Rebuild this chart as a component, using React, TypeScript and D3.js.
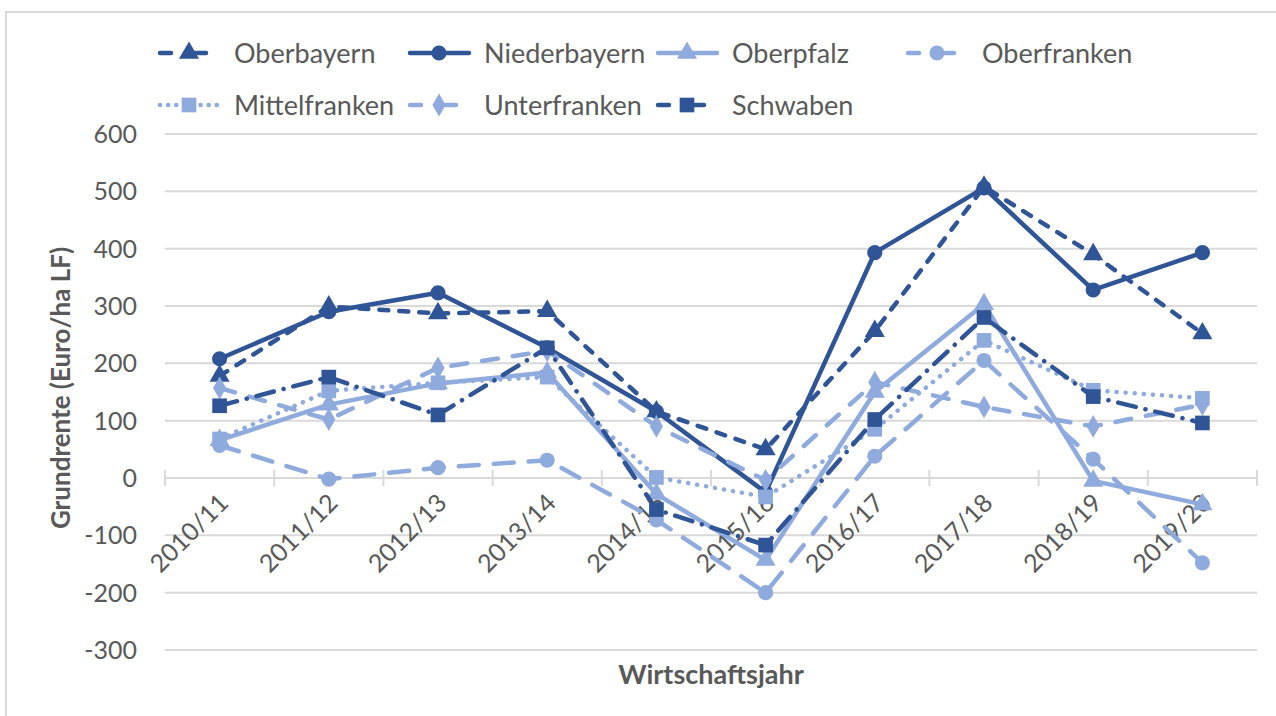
import React, { useEffect, useRef } from "react";
import * as d3 from "d3";

const years = [
  "2010/11", "2011/12", "2012/13", "2013/14", "2014/15",
  "2015/16", "2016/17", "2017/18", "2018/19", "2019/20",
];

const oberbayern = [178, 299, 287, 291, 116, 50, 256, 508, 390, 252];
const niederbayern = [208, 290, 323, 227, 116, -25, 393, 506, 328, 393];
const oberpfalz = [66, 128, 165, 184, -28, -143, 150, 303, -5, -46];
const oberfranken = [57, -2, 18, 31, -73, -200, 38, 205, 33, -148];
const mittelfranken = [68, 152, 166, 176, 1, -33, 85, 240, 153, 139];
const unterfranken = [157, 102, 192, 222, 90, -4, 167, 124, 90, 128];
const schwaben = [126, 176, 110, 227, -55, -117, 102, 280, 142, 96];

const yTicks = [-300, -200, -100, 0, 100, 200, 300, 400, 500, 600];

const DARK = "#2F5597";
const LIGHT = "#8FAADC";
const TEXT = "#595959";
const GRID = "#D9D9D9";
const FONT = "Lato, 'Open Sans', sans-serif";

const series = [
  { name: "Oberbayern", values: oberbayern, color: DARK, dash: "9 11", marker: "triangle" },
  { name: "Niederbayern", values: niederbayern, color: DARK, dash: null, marker: "circle" },
  { name: "Oberpfalz", values: oberpfalz, color: LIGHT, dash: null, marker: "triangle" },
  { name: "Oberfranken", values: oberfranken, color: LIGHT, dash: "20 15", marker: "circle" },
  { name: "Mittelfranken", values: mittelfranken, color: LIGHT, dash: "0.1 9", marker: "square" },
  { name: "Unterfranken", values: unterfranken, color: LIGHT, dash: "16 15", marker: "diamond" },
  { name: "Schwaben", values: schwaben, color: DARK, dash: "18 10 0.1 10", marker: "square" },
];

const symbolFor = (m) =>
  m === "triangle" ? d3.symbolTriangle
  : m === "circle" ? d3.symbolCircle
  : m === "diamond" ? d3.symbolDiamond
  : d3.symbolSquare;

const sizeFor = (m) =>
  m === "triangle" ? 175 : m === "circle" ? 180 : m === "diamond" ? 150 : 215;

function LineChart() {
  const svgRef = useRef(null);

  useEffect(() => {
    const svg = d3.select(svgRef.current);
    svg.selectAll("*").remove();

    const left = 165, right = 1257, top = 134, bottom = 650;

    // chart border
    svg.append("rect")
      .attr("x", 6).attr("y", 12)
      .attr("width", 1320).attr("height", 800)
      .attr("fill", "white")
      .attr("stroke", GRID).attr("stroke-width", 2);

    const x = d3.scaleBand().domain(years).range([left, right]).padding(0);
    const cx = (d) => x(d) + x.bandwidth() / 2;
    const y = d3.scaleLinear().domain([-300, 600]).range([bottom, top]);

    // gridlines + y labels
    svg.append("g").selectAll("line")
      .data(yTicks).enter().append("line")
      .attr("x1", left).attr("x2", right)
      .attr("y1", (d) => y(d)).attr("y2", (d) => y(d))
      .attr("stroke", GRID).attr("stroke-width", 2);

    svg.append("g").selectAll("text")
      .data(yTicks).enter().append("text")
      .attr("x", 137).attr("y", (d) => y(d))
      .attr("dy", "0.36em")
      .attr("text-anchor", "end")
      .attr("fill", TEXT)
      .style("font", `25px ${FONT}`)
      .text((d) => d);

    // category ticks on the zero axis
    const bounds = years.map((d) => x(d)).concat([right]);
    svg.append("g").selectAll("line")
      .data(bounds).enter().append("line")
      .attr("x1", (d) => d).attr("x2", (d) => d)
      .attr("y1", y(0) - 8).attr("y2", y(0) + 8)
      .attr("stroke", GRID).attr("stroke-width", 2);

    // x labels
    svg.append("g").selectAll("text")
      .data(years).enter().append("text")
      .attr("transform", (d) => `translate(${cx(d) + 4},${y(0) + 20}) rotate(-45)`)
      .attr("dy", "0.36em")
      .attr("text-anchor", "end")
      .attr("fill", TEXT)
      .style("font", `25px ${FONT}`)
      .text((d) => d);

    // axis titles
    svg.append("text")
      .attr("transform", `translate(61,${(top + bottom) / 2 - 4}) rotate(-90)`)
      .attr("dy", "0.36em")
      .attr("text-anchor", "middle")
      .attr("fill", TEXT)
      .style("font", `bold 26px ${FONT}`)
      .text("Grundrente (Euro/ha LF)");

    svg.append("text")
      .attr("x", (left + right) / 2).attr("y", 674)
      .attr("dy", "0.36em")
      .attr("text-anchor", "middle")
      .attr("fill", TEXT)
      .style("font", `bold 27px ${FONT}`)
      .text("Wirtschaftsjahr");

    const line = d3.line().x((d) => cx(d.year)).y((d) => y(d.v));

    series.forEach((s) => {
      const pts = s.values.map((v, i) => ({ year: years[i], v }));
      svg.append("path")
        .datum(pts)
        .attr("d", line)
        .attr("fill", "none")
        .attr("stroke", s.color)
        .attr("stroke-width", 4.5)
        .attr("stroke-linecap", "round")
        .attr("stroke-linejoin", "round")
        .attr("stroke-dasharray", s.dash);
      svg.append("g").selectAll("path")
        .data(pts).enter().append("path")
        .attr("transform", (d) => `translate(${cx(d.year)},${y(d.v)})`)
        .attr("d", d3.symbol().type(symbolFor(s.marker)).size(sizeFor(s.marker)))
        .attr("fill", s.color);
    });

    // legend
    const colX = [157, 407, 655, 905];
    const rowY = [53, 105];
    series.forEach((s, i) => {
      const lx = colX[i % 4];
      const ly = rowY[Math.floor(i / 4)];
      const g = svg.append("g").attr("transform", `translate(${lx},${ly})`);
      g.append("line")
        .attr("x1", 3).attr("x2", 62)
        .attr("stroke", s.color).attr("stroke-width", 4.5)
        .attr("stroke-linecap", "round")
        .attr("stroke-dasharray", s.dash ? (s.dash === "0.1 9" ? "0.1 8" : "11 24") : null);
      g.append("path")
        .attr("transform", "translate(32,0)")
        .attr("d", d3.symbol().type(symbolFor(s.marker)).size(sizeFor(s.marker)))
        .attr("fill", s.color);
      g.append("text")
        .attr("x", 77).attr("dy", "0.36em")
        .attr("fill", TEXT)
        .style("font", `27px ${FONT}`)
        .text(s.name);
    });
  }, []);

  return (
    <svg
      ref={svgRef}
      width={1276}
      height={716}
      style={{ position: "absolute", left: 0, top: 0, background: "white" }}
    ></svg>
  );
}

export default function App() {
  return <LineChart />;
}
